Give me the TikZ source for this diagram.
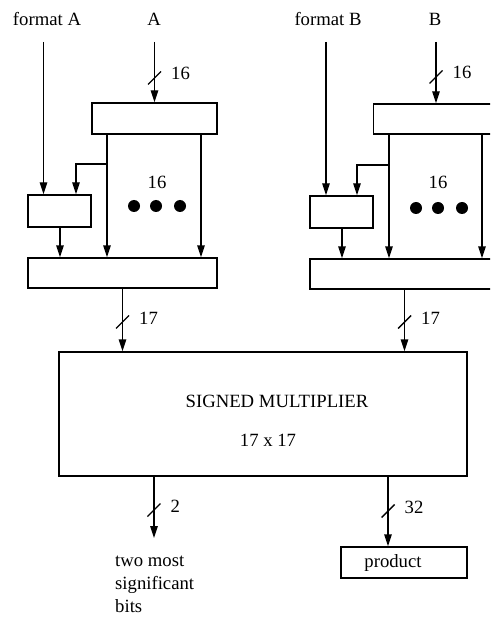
\documentclass[tikz,border=0pt]{standalone}
\usepackage{fontspec}
\setmainfont{Liberation Serif}
\usetikzlibrary{arrows.meta}
\newcommand\busmark[3]{%
  \draw[ln] ([shift={(-6.5,6.5)}]#1) -- ([shift={(6.5,-6.5)}]#1);
  \node[txt,anchor=base west] (#3) at ([shift={(16.5,2)}]#1) {#2};}
\begin{document}
\begin{tikzpicture}[x=1pt,y=-1pt,
  ln/.style={line width=1.4pt},
  arr/.style={ln,-{Triangle[length=12pt,width=7.5pt]}},
  box/.style={draw,ln,inner sep=0pt},
  txt/.style={inner sep=0pt,font=\fontsize{18.7}{23}\selectfont}]
\useasboundingbox (0,0) rectangle (490,617);
\clip (0,0) rectangle (490,617);
% ---------- A side ----------
\node[txt,anchor=base] (fmtA) at (47,26) {format A};
\node[txt,anchor=base] (inA) at (154,26) {A};
\node[box,minimum width=125pt,minimum height=31pt] (topA) at (154.5,118.5) {};
\node[box,minimum width=63pt,minimum height=32pt] (smA) at (59.5,211) {};
\node[box,minimum width=189pt,minimum height=30pt] (botA) at (122.5,273) {};
\coordinate (fA) at (43.5,42);
\coordinate (iA) at (154.5,42);
\coordinate (a1) at (107,0);
\coordinate (a2) at (201,0);
\coordinate (abr) at (107,164);
\coordinate (a3) at (76,0);
\coordinate (a4) at (60,0);
\draw[arr] (fA) -- (smA.north -| fA);
\draw[arr] (iA) -- (topA.north);
\coordinate (sA) at (154.5,78);
\busmark{sA}{16}{lA}
\draw[arr] (topA.south -| a1) -- (botA.north -| a1);
\draw[arr] (topA.south -| a2) -- (botA.north -| a2);
\draw[arr] (abr) -| (smA.north -| a3);
\draw[arr] (smA.south -| a4) -- (botA.north -| a4);
\node[txt,anchor=base] (nA) at (157,189) {16};
\fill (134,206) circle (6);
\fill (156,206) circle (6);
\fill (180,206) circle (6);
% ---------- B side ----------
\node[txt,anchor=base] (fmtB) at (328,26) {format B};
\node[txt,anchor=base] (inB) at (435,26) {B};
\node[box,minimum width=125pt,minimum height=30pt] (topB) at (436,119) {};
\node[box,minimum width=63pt,minimum height=32pt] (smB) at (341.5,212) {};
\node[box,minimum width=189pt,minimum height=30pt] (botB) at (404.5,274) {};
\coordinate (fB) at (326,42);
\coordinate (iB) at (436,42);
\coordinate (b1) at (389,0);
\coordinate (b2) at (482,0);
\coordinate (bbr) at (389,165);
\coordinate (b3) at (357,0);
\coordinate (b4) at (342,0);
\draw[arr] (fB) -- (smB.north -| fB);
\draw[arr] (iB) -- (topB.north);
\coordinate (sB) at (436,77);
\busmark{sB}{16}{lB}
\draw[arr] (topB.south -| b1) -- (botB.north -| b1);
\draw[arr] (topB.south -| b2) -- (botB.north -| b2);
\draw[arr] (bbr) -| (smB.north -| b3);
\draw[arr] (smB.south -| b4) -- (botB.north -| b4);
\node[txt,anchor=base] (nB) at (438,189) {16};
\fill (416,208) circle (6);
\fill (438,208) circle (6);
\fill (462,208) circle (6);
% ---------- multiplier ----------
\node[box,minimum width=408pt,minimum height=124pt] (mult) at (263,414) {};
\node[txt,anchor=base] (mt1) at (277,407) {SIGNED MULTIPLIER};
\node[txt,anchor=base] (mt2) at (268,446) {17 x 17};
\draw[arr] (botA.south) -- (mult.north -| botA.south);
\draw[arr] (botB.south) -- (mult.north -| botB.south);
\coordinate (s17a) at (122.5,322);
\busmark{s17a}{17}{l17a}
\coordinate (s17b) at (404.5,322);
\busmark{s17b}{17}{l17b}
% ---------- outputs ----------
\node[box,minimum width=126pt,minimum height=31pt,txt] (product) at (404,562.5) {\hspace*{-22pt}product};
\coordinate (o1) at (154,0);
\coordinate (o2) at (388,0);
\coordinate (msbEnd) at (154,538);
\draw[arr] (mult.south -| o1) -- (msbEnd);
\draw[arr] (mult.south -| o2) -- (product.north -| o2);
\coordinate (s2) at (154,510);
\busmark{s2}{2}{l2}
\coordinate (s32) at (388,511);
\busmark{s32}{32}{l32}
\node[txt,anchor=north west,align=left] (msb) at (115,556) {two most\\significant\\bits};
\end{tikzpicture}
\end{document}
